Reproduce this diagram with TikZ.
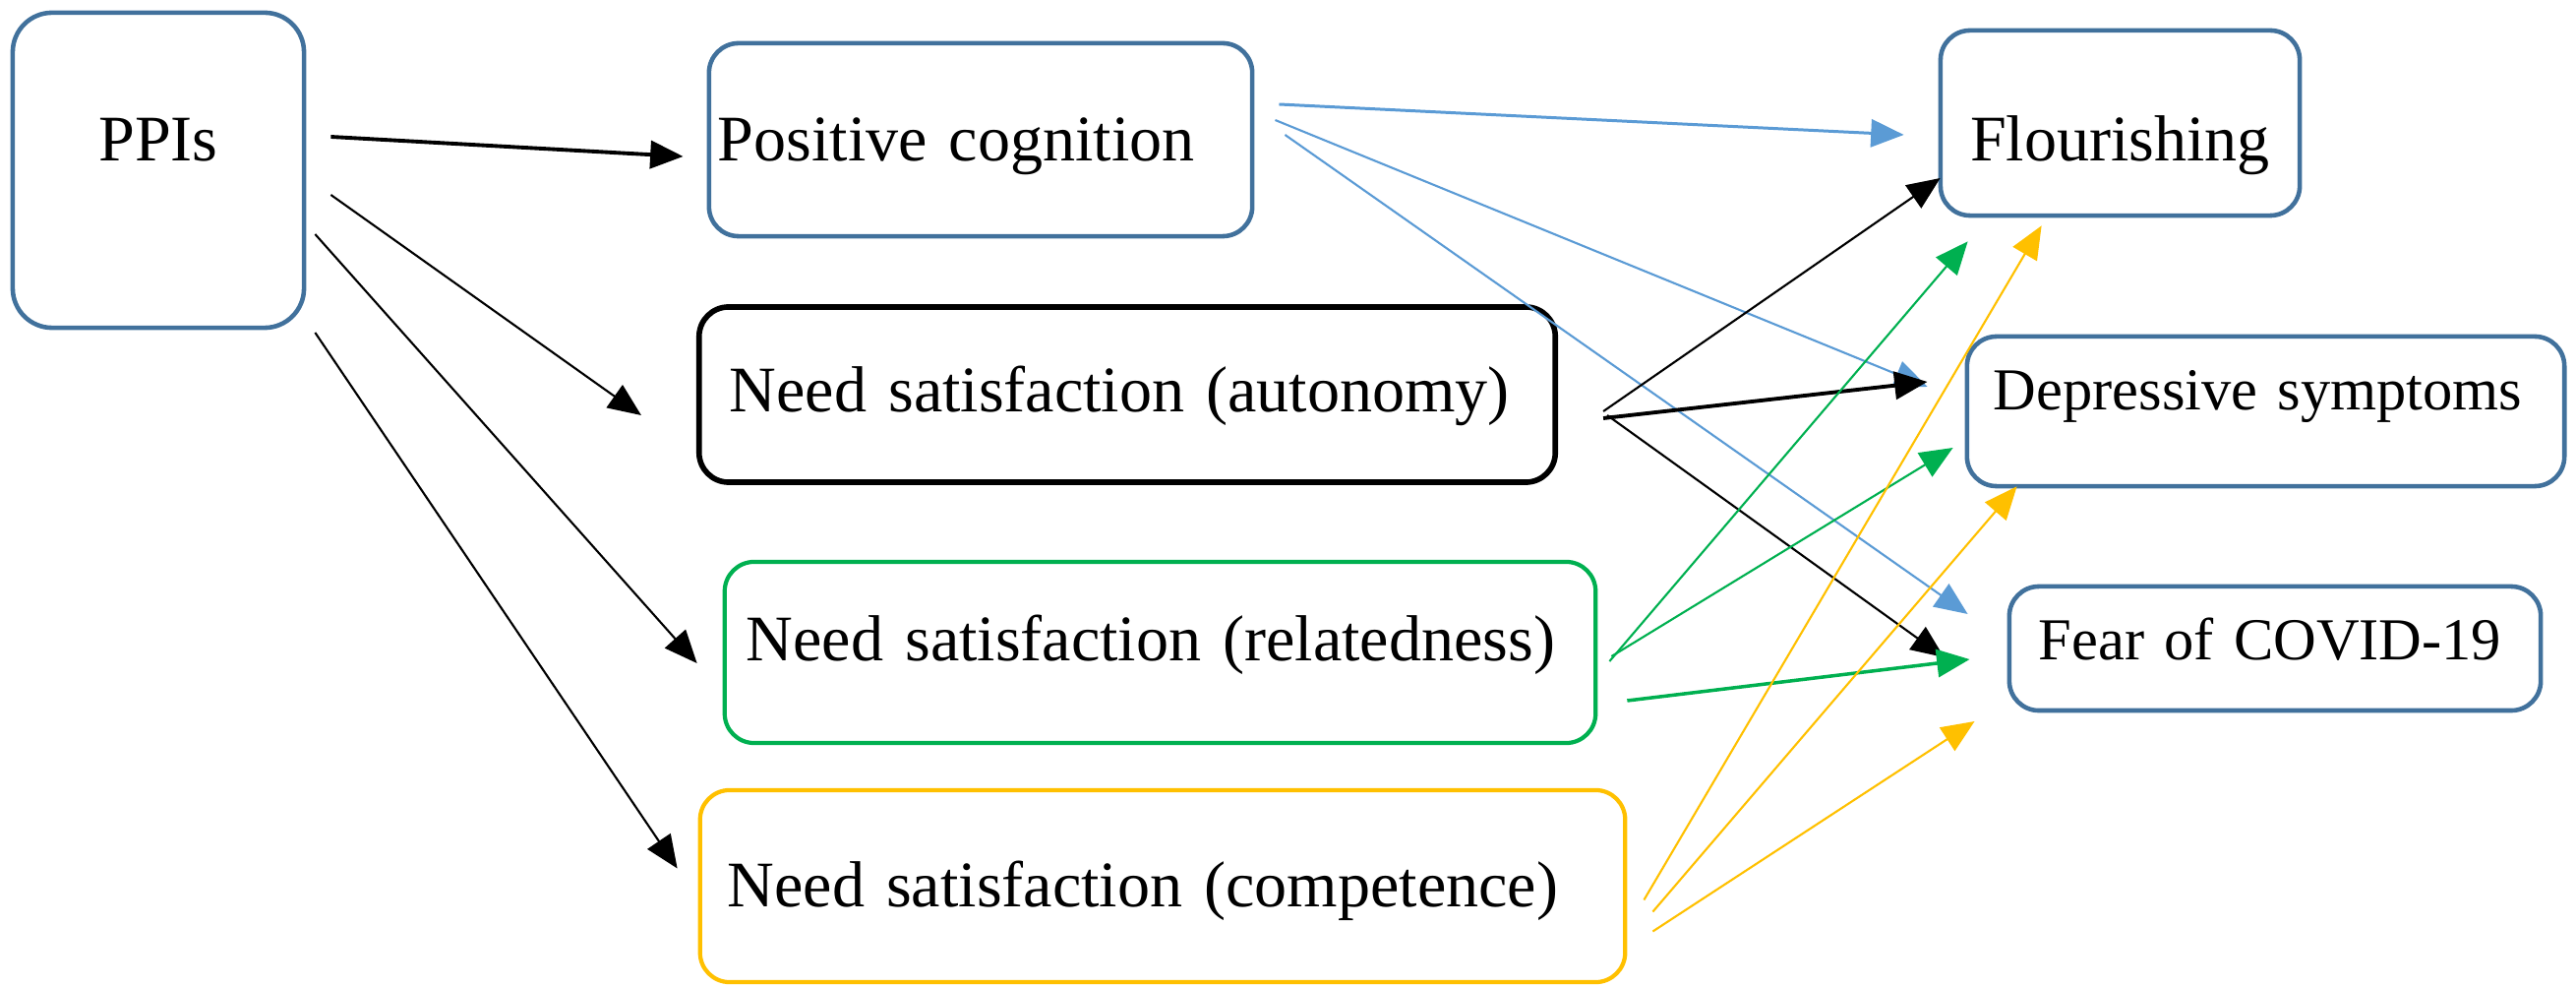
\documentclass[tikz,border=0pt]{standalone}
\usepackage{fontspec}
\setmainfont{Liberation Serif}
\usetikzlibrary{arrows.meta}
\definecolor{boxblue}{RGB}{65,113,156}
\definecolor{arrblue}{RGB}{91,155,213}
\definecolor{grn}{RGB}{0,176,80}
\definecolor{ylw}{RGB}{255,192,0}

\begin{document}
\begin{tikzpicture}[x = 0.01cm, y = -0.01cm,
	box/.style = {draw, rounded corners = 0.3cm, line width = 1.3pt, inner ysep = 0pt, font = \fontsize{18.8}{22}\selectfont},
	lbox/.style = {box, align = left},
	smalltext/.style = {font = \fontsize{17.2}{20}\selectfont},
	tip/.style = {-{Triangle[length = 9.5pt, width = 8pt]}, line width = 0.6pt}]
	\useasboundingbox (0, 0) rectangle (2619, 1004);
	\node[box, draw = boxblue, rounded corners = 0.4cm, minimum width = 2.96cm, minimum height = 3.2cm, text height = 0.5cm, text depth = 0.69cm] (ppi) at (161, 173) {PPIs};
	\node[lbox, draw = boxblue, minimum height = 1.96cm, inner xsep = 0.09cm, text width = 5.34cm, text height = 0.5cm, text depth = 0.06cm] (poscog) at (997, 142) {Positive cognition};
	\node[lbox, draw = black, line width = 1.6pt, minimum height = 1.78cm, inner xsep = 0.31cm, text width = 8.08cm, text height = 0.5cm, text depth = 0.16cm] (auton) at (1146, 401) {Need satisfaction (autonomy)};
	\node[lbox, draw = grn, line width = 1.2pt, minimum height = 1.84cm, inner xsep = 0.22cm, text width = 8.41cm, text height = 0.5cm, text depth = 0.34cm] (relat) at (1179.5, 663) {Need satisfaction (relatedness)};
	\node[lbox, draw = ylw, line width = 1.2pt, minimum height = 1.95cm, inner xsep = 0.28cm, text width = 8.84cm, text height = 0.5cm, text depth = 0.08cm] (compet) at (1182, 900.5) {Need satisfaction (competence)};
	\node[box, draw = boxblue, minimum width = 3.65cm, minimum height = 1.88cm, text height = 0.9cm, text depth = 0.14cm] (flour) at (2155.5, 125) {Flourishing};
	\node[lbox, smalltext, draw = boxblue, minimum height = 1.52cm, inner xsep = 0.27cm, text width = 5.53cm, text height = 0.5cm, text depth = 0.52cm] (depress) at (2303.5, 418) {Depressive symptoms};
	\node[lbox, smalltext, draw = boxblue, minimum height = 1.26cm, inner xsep = 0.3cm, text width = 4.8cm, text height = 0.5cm, text depth = 0.27cm] (fear) at (2313, 659) {Fear of COVID-19};
	\draw[tip, line width = 1.1pt] ([shift = {(25, -34)}]ppi.east) -- ([shift = {(-24, 17)}]poscog.west);
	\draw[tip] ([shift = {(25, 25)}]ppi.east) -- ([shift = {(-56, 21)}]auton.west);
	\draw[tip] ([shift = {(9, 65)}]ppi.east) -- ([shift = {(-26, 11)}]relat.west);
	\draw[tip] ([shift = {(9, 165)}]ppi.east) -- ([shift = {(-21, -18)}]compet.west);
	\draw[tip, arrblue, line width = 0.85pt] ([shift = {(25, -36)}]poscog.east) -- ([shift = {(-35, 12)}]flour.west);
	\draw[tip, arrblue] ([shift = {(21, -20)}]poscog.east) -- ([shift = {(-38, -25)}]depress.west);
	\draw[tip, arrblue] ([shift = {(31, -5)}]poscog.east) -- ([shift = {(-40, -35)}]fear.west);
	\draw[tip] ([shift = {(46, 17)}]auton.east) -- ([shift = {(2, 56)}]flour.west);
	\draw[tip, line width = 1.1pt] ([shift = {(46, 24)}]auton.east) -- ([shift = {(-38, -30)}]depress.west);
	\draw[tip] ([shift = {(50, 21)}]auton.east) -- ([shift = {(-64, 9)}]fear.west);
	\draw[tip, grn] ([shift = {(12, 9)}]relat.east) -- ([shift = {(30, 24)}]flour.south west);
	\draw[tip, grn] ([shift = {(14, 4)}]relat.east) -- ([shift = {(-12, 37)}]depress.west);
	\draw[tip, grn, line width = 1pt] ([shift = {(30, 49)}]relat.east) -- ([shift = {(-38, 11)}]fear.west);
	\draw[tip, ylw] ([shift = {(17, 14)}]compet.east) -- ([shift = {(105, 8)}]flour.south west);
	\draw[tip, ylw] ([shift = {(26, 26)}]compet.east) -- ([shift = {(53, -2)}]depress.south west);
	\draw[tip, ylw] ([shift = {(26, 46)}]compet.east) -- ([shift = {(-33, 74)}]fear.west);
\end{tikzpicture}
\end{document}
